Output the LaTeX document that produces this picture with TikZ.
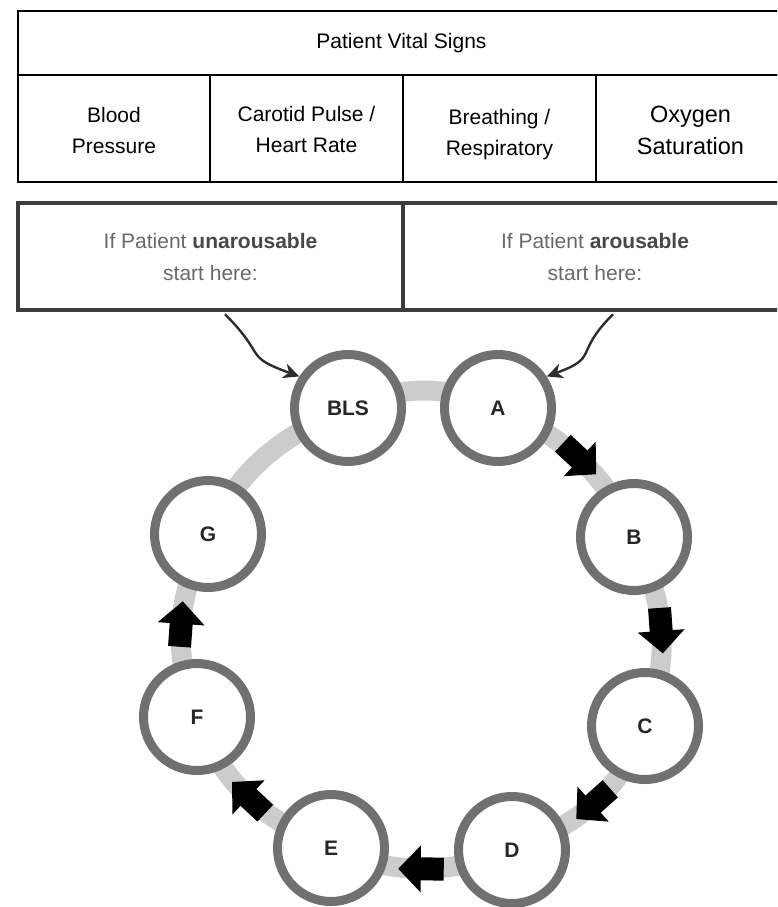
\documentclass[tikz,border=0pt]{standalone}
\usepackage{fontspec}
\setmainfont{Liberation Sans}
\usetikzlibrary{arrows.meta,decorations.markings,backgrounds}

\definecolor{ringgray}{RGB}{112,112,112}
\definecolor{trackgray}{RGB}{204,204,204}
\definecolor{boxgray}{RGB}{60,60,60}
\definecolor{labelgray}{RGB}{105,105,105}
\definecolor{boldgray}{RGB}{72,72,72}
\definecolor{curvegray}{RGB}{45,45,45}

\begin{document}
\begin{tikzpicture}[x=1pt,y=1pt,
  cell/.style={draw=black, line width=1.8pt, minimum height=107pt, inner sep=0pt},
  celltext/.style={inner sep=0pt, align=center, font=\fontsize{21}{31}\selectfont},
  titlecell/.style={draw=black, line width=1.8pt, minimum height=64pt, minimum width=767pt,
    inner sep=0pt, font=\fontsize{21}{25}\selectfont},
  startbox/.style={draw=boxgray, line width=4.5pt, minimum height=107pt, inner sep=0pt,
    align=center, text=labelgray, font=\fontsize{21}{32}\selectfont},
  stage/.style={circle, draw=ringgray, line width=9pt, fill=white, minimum size=107pt,
    inner sep=0pt, text=black!85, font=\bfseries\fontsize{21}{25}\selectfont},
  track/.style={draw=trackgray, line width=20pt},
  flowarrow/.style={postaction={decorate}, decoration={markings,
    mark=at position 0.5 with {\fill[black] (-22.5,-11.5) -- (0.5,-11.5) -- (0.5,-23.5)
      -- (23,0) -- (0.5,23.5) -- (0.5,11.5) -- (-22.5,11.5) -- cycle;}}},
  startarrow/.style={draw=curvegray, line width=2.4pt,
    -{Stealth[length=16pt,width=15pt,inset=5pt]}}
]
\useasboundingbox (0,0) rectangle (777,-907);
\clip (0,0) rectangle (777,-907);

% vital signs table
\node[titlecell] (title) at (401.5,-43) {Patient Vital Signs};
\node[cell, minimum width=192pt] (bp) at (114,-128.5) {};
\node[cell, minimum width=193pt] (hr) at (306.5,-128.5) {};
\node[cell, minimum width=193pt] (rr) at (499.5,-128.5) {};
\node[cell, minimum width=189pt] (ox) at (690.5,-128.5) {};
\node[celltext] (bpt) at ([yshift=-2pt]bp.center) {Blood\\Pressure};
\node[celltext] (hrt) at ([yshift=-1pt]hr.center) {Carotid Pulse /\\Heart Rate};
\node[celltext] (rrt) at ([yshift=-6pt]rr.center) {Breathing /\\Respiratory};
\node[celltext, font=\fontsize{23.5}{32}\selectfont] (oxt) at ([yshift=-2pt]ox.center) {Oxygen\\Saturation};

% start boxes
\node[startbox, minimum width=385pt] (ubox) at (210.5,-256.5)
  {If Patient \textcolor{boldgray}{\bfseries unarousable}\\start here:};
\node[startbox, minimum width=384pt] (abox) at (595,-256.5)
  {If Patient \textcolor{boldgray}{\bfseries arousable}\\start here:};

% stages
\node[stage] (BLS) at (348,-408) {BLS};
\node[stage] (A) at (498,-408) {A};
\node[stage] (B) at (634,-537) {B};
\node[stage] (C) at (645,-726) {C};
\node[stage] (D) at (512,-850) {D};
\node[stage] (E) at (331,-848) {E};
\node[stage] (F) at (197,-717) {F};
\node[stage] (G) at (208,-534) {G};

% track with flow arrows
\begin{pgfonlayer}{background}
\draw[track] (BLS.center) to[out=23,in=156] (A.center);
\draw[track, flowarrow] (A.center) to[out=-24,in=115] (B.center);
\draw[track, flowarrow] (B.center) to[out=-65,in=69] (C.center);
\draw[track, flowarrow] (C.center) to[out=-111,in=21] (D.center);
\draw[track, flowarrow] (D.center) to[out=-159,in=-23] (E.center);
\draw[track, flowarrow] (E.center) to[out=157,in=-69] (F.center);
\draw[track, flowarrow] (F.center) to[out=111,in=-116] (G.center);
\draw[track] (G.center) to[out=64,in=-157] (BLS.center);
\end{pgfonlayer}

% entry arrows
\draw[startarrow] ([xshift=14.5pt,yshift=-2pt]ubox.south) to[out=-45,in=160,looseness=1.6] (BLS.147);
\draw[startarrow] ([xshift=18pt,yshift=-2pt]abox.south) to[out=-135,in=20,looseness=1.6] (A.33);
\end{tikzpicture}
\end{document}
